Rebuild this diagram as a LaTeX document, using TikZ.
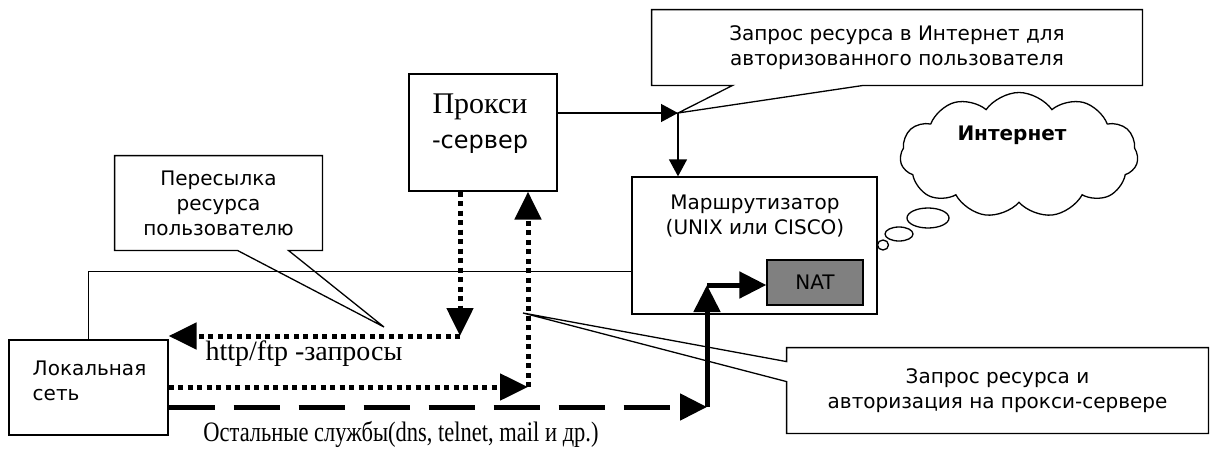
\documentclass[tikz,border=0pt]{standalone}
\usepackage{fontspec}
\setmainfont{DejaVu Sans}
\newfontfamily\timesfont{Liberation Serif}
\usetikzlibrary{arrows.meta,positioning,shapes.symbols,shapes.geometric}

\begin{document}
\begin{tikzpicture}[x=1pt, y=-1pt, thick,
    font=\fontsize{20}{25}\selectfont,
    box/.style={draw, rectangle, line width=1.3pt, inner sep=0pt},
    note/.style={rectangle, align=center},
    outline/.style={line width=1.3pt},
    bubble/.style={draw, ellipse, line width=1.3pt, inner sep=0pt},
    thinarrow/.style={line width=1.3pt, -{Triangle[length=17pt, width=18pt]}},
    dotarrow/.style={line width=5pt, dash pattern=on 5pt off 4.5pt, -{Triangle[length=28pt, width=26pt]}},
    thickarrow/.style={line width=5pt, -{Triangle[length=27pt, width=26pt]}},
    dasharrow/.style={thickarrow, dash pattern=on 46pt off 19pt}]
    \useasboundingbox (0,0) rectangle (1213,450);

    % Nodes
    \node (proxy) [box, minimum width=148pt, minimum height=117pt] at (483,132.5) {};
    \node (proxytxt) [align=center, font=\fontsize{24}{35}\selectfont] at (480,124) {{\timesfont\fontsize{30}{35}\selectfont Прокси}\\-сервер};
    \node (router) [box, minimum width=245pt, minimum height=137pt] at (754.5,245.5) {};
    \node (routertxt) [align=center] at (755,216) {Маршрутизатор\\(UNIX или CISCO)};
    \node (nat) [box, fill=gray, minimum width=96pt, minimum height=45pt] at (815,282.5) {NAT};
    \node (lan) [box, minimum width=159pt, minimum height=95pt] at (88.5,387.5) {};
    \node (lantxt) [align=left, anchor=west] at (29,381) {Локальная\\сеть};

    % Callouts
    \coordinate (reqtip) at (678,113);
    \coordinate (fwdtip) at (384,327);
    \coordinate (authtip) at (523,313);
    \node (reqnote) [note, minimum width=490pt, minimum height=75pt] at (897,47.5) {Запрос ресурса в Интернет для\\авторизованного пользователя};
    \node (fwdnote) [note, minimum width=207pt, minimum height=94pt] at (218.5,203) {Пересылка\\ресурса\\пользователю};
    \node (authnote) [note, minimum width=421pt, minimum height=85pt] at (997.5,390.5) {Запрос ресурса и\\авторизация на прокси-сервере};
    \draw[outline] (reqnote.south west) -- (reqnote.north west) -- (reqnote.north east) -- (reqnote.south east)
        -- ([xshift=-279pt]reqnote.south east) -- (reqtip) -- ([xshift=81pt]reqnote.south west) -- cycle;
    \draw[outline] (fwdnote.south west) -- (fwdnote.north west) -- (fwdnote.north east) -- (fwdnote.south east)
        -- ([xshift=-34pt]fwdnote.south east) -- (fwdtip) -- ([xshift=-85pt]fwdnote.south east) -- cycle;
    \draw[outline] (authnote.north west) -- (authnote.north east) -- (authnote.south east) -- (authnote.south west)
        -- ([yshift=-34pt]authnote.north west) -- (authtip) -- ([yshift=-14pt]authnote.north west) -- cycle;

    % Cloud
    \node (inet) [cloud, draw, line width=1.3pt, cloud puffs=11, cloud puff arc=110, aspect=1.9, minimum width=238pt, minimum height=125pt] at (1019,155) {};
    \node (inettxt) [font=\fontsize{20}{25}\selectfont\bfseries] at (1012,135) {Интернет};
    \node (bub1) [bubble, minimum width=42pt, minimum height=20pt] at (928,218) {};
    \node (bub2) [bubble, minimum width=28pt, minimum height=14pt] at (899,234) {};
    \node (bub3) [bubble, minimum width=11pt, minimum height=10pt] at (883,245) {};

    % Edges
    \draw[thinarrow] (proxy.east |- reqtip) -- (reqtip);
    \draw[thinarrow] (reqtip) -- (reqtip |- router.north);
    \draw[outline] (lan.north) |- ([yshift=-26pt]router.west);
    \coordinate (httpbend) at (460,336);
    \draw[dotarrow] (proxy.south -| httpbend) -- (httpbend);
    \draw[dotarrow] (httpbend) -- (httpbend -| lan.east);
    \node (httplbl) [font=\timesfont\fontsize{28}{28}\selectfont] at (304,354) {http/ftp -запросы};
    \coordinate (authbend) at (528,387);
    \draw[dotarrow] (authbend -| lan.east) -- (authbend);
    \draw[dotarrow] (authbend) -- (authbend |- proxy.south);
    \coordinate (otherbend) at (707,407);
    \coordinate (natbend) at (707,285);
    \draw[dasharrow] (otherbend -| lan.east) -- (otherbend);
    \draw[thickarrow] (otherbend) -- (natbend);
    \draw[thickarrow] (natbend) -- (natbend -| nat.west);
    \node (otherlbl) [font=\timesfont\fontsize{22.5}{22.5}\selectfont, yscale=1.25, transform shape] at (401,434) {Остальные службы(dns, telnet, mail и др.)};
\end{tikzpicture}
\end{document}
